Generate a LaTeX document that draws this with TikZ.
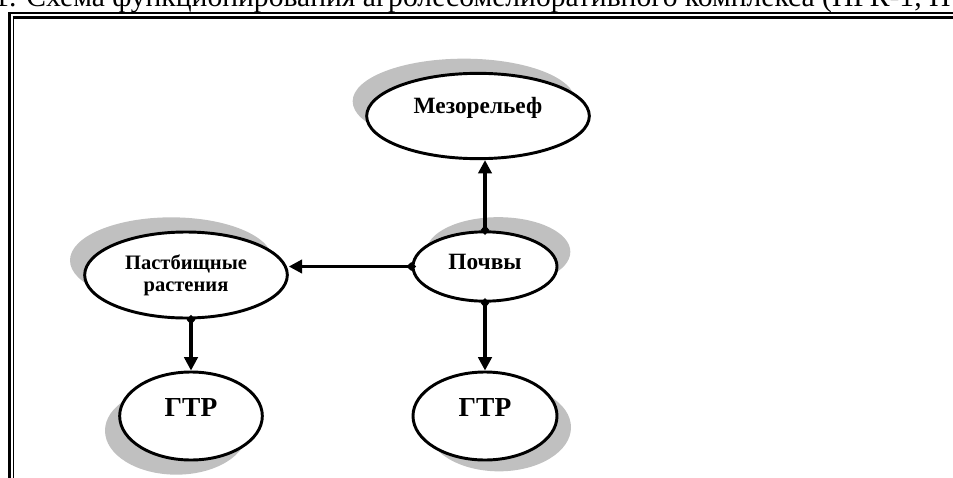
\documentclass[tikz,border=0pt]{standalone}
\usepackage{fontspec}
\setmainfont{Liberation Serif}
\usetikzlibrary{shapes.geometric,shadows,arrows.meta}
\definecolor{shade}{HTML}{C0C0C0}
\tikzset{
  blob/.style={ellipse, draw, line width=2.2pt, fill=white, inner sep=0pt, align=center},
  shd/.style 2 args={general shadow={fill=shade, shadow xshift=#1, shadow yshift=#2}},
  link/.style={line width=2.4pt, {Diamond[length=7.5pt,width=6.5pt]}-{Triangle[length=10pt,width=10pt]}, shorten <=-3.5pt}
}

\begin{document}
\begin{tikzpicture}[x=0.75pt, y=-0.75pt]
  \useasboundingbox (0,0) rectangle (953,478);
  \clip (0,0) rectangle (953,478);
  % caption, cut at the top
  \node[anchor=base west, inner sep=0pt, font=\fontsize{22.2}{24}\selectfont] (caption) at (-6,6.5)
    {1. Схема функционирования агролесомелиоративного комплекса (ПРК-1, П};
  % frame
  \draw[line width=1.3pt] (8.3,13.2) -- (960,13.2);
  \draw[line width=2pt] (9.7,12.4) -- (9.7,490);
  \draw[line width=2.25pt] (12.7,17.5) -- (960,17.5);
  \draw[line width=1.3pt] (13.5,16.4) -- (13.5,490);
  % ellipses
  \node[blob, shd={-10.5pt}{11pt}, minimum width=167pt, minimum height=64pt,
    font=\bfseries\fontsize{17.5}{20}\selectfont, text height=10pt, text depth=13.8pt] (mezo) at (478,116) {Мезорельеф};
  \node[blob, shd={10pt}{11pt}, minimum width=108pt, minimum height=52pt,
    font=\bfseries\fontsize{17.5}{20}\selectfont, text height=10pt, text depth=4.8pt] (pochvy) at (485,266.5) {Почвы};
  \node[blob, shd={-11pt}{11pt}, minimum width=152pt, minimum height=64.5pt,
    font=\bfseries\fontsize{15.4}{16.5}\selectfont] (pasture) at (186,275) {Пастбищные\\растения};
  \node[blob, shd={-11pt}{-11pt}, minimum width=107pt, minimum height=66pt,
    font=\bfseries\fontsize{20.6}{24}\selectfont, text height=10pt, text depth=10pt] (gtrL) at (191,416) {ГТР};
  \node[blob, shd={10.5pt}{-8.5pt}, minimum width=108pt, minimum height=66pt,
    font=\bfseries\fontsize{20.6}{24}\selectfont, text height=10pt, text depth=10pt] (gtrR) at (485,416) {ГТР};
  % connectors
  \draw[link] (pochvy.north) -- (pochvy.north |- mezo.south);
  \draw[link] (pochvy.west) -- (pochvy.west -| pasture.east);
  \draw[link] (pasture.south -| gtrL.north) -- (gtrL.north);
  \draw[link] (pochvy.south) -- (gtrR.north);
\end{tikzpicture}
\end{document}
